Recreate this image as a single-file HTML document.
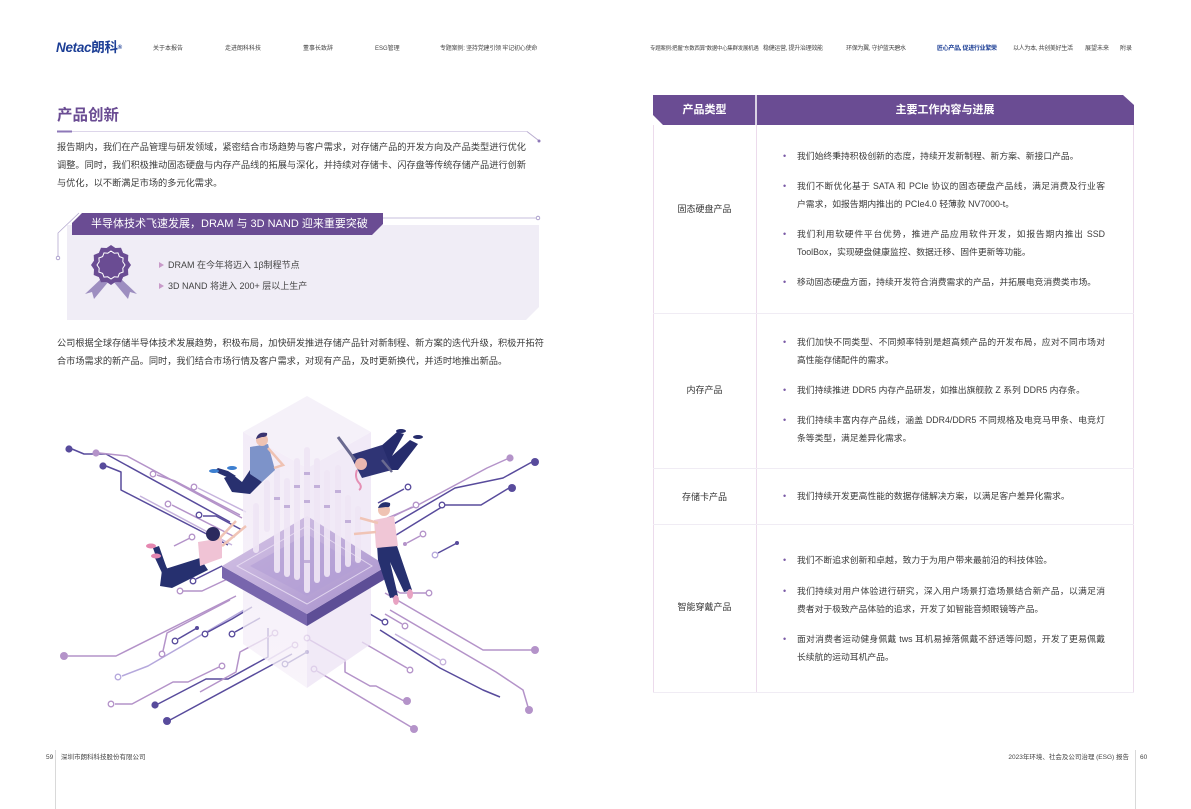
<!DOCTYPE html>
<html><head><meta charset="utf-8">
<style>
*{margin:0;padding:0;box-sizing:border-box}
html,body{width:1191px;height:809px;background:#fff;overflow:hidden}
body{position:relative;font-family:"Liberation Sans","Noto Sans CJK SC",sans-serif;color:#333}
.a{position:absolute;white-space:nowrap}
.nav{font-size:6px;color:#444;top:45px;line-height:8px}
.p{font-size:9.2px;line-height:14px;color:#3a3a3a;left:57px}
.j{text-align:justify;text-align-last:justify}
.t{font-size:8.8px;line-height:14px;color:#3a3a3a;left:797px}
.tj{width:308px;text-align:justify;text-align-last:justify}
.b{left:783px;font-size:9px;color:#7a5aa6;line-height:14px}
.lab{font-size:9px;color:#333;line-height:14px;left:653px;width:103px;text-align:center}
.ft{font-size:6.5px;color:#444;top:753px;line-height:9px}
</style></head><body>

<!-- Header -->
<div class="a" style="left:56px;top:39px;font-size:13.5px;font-weight:bold;font-style:italic;color:#1d3f96;line-height:18px;letter-spacing:-0.3px">Netac<span style="font-style:normal;font-size:13.5px">朗科</span><span style="font-size:6px;vertical-align:top;font-style:normal">®</span></div>
<div class="a nav" style="left:153px">关于本报告</div>
<div class="a nav" style="left:225px">走进朗科科技</div>
<div class="a nav" style="left:303px">董事长致辞</div>
<div class="a nav" style="left:375px">ESG管理</div>
<div class="a nav" style="left:440px;letter-spacing:-0.2px">专题案例: 坚持党建引领 牢记初心使命</div>
<div class="a nav" style="left:650px;font-size:5.4px;letter-spacing:-0.2px">专题案例:把握"东数西算"数据中心集群发展机遇</div>
<div class="a nav" style="left:763px;letter-spacing:-0.3px">稳健运营, 提升治理效能</div>
<div class="a nav" style="left:846px;letter-spacing:-0.3px">环保为翼, 守护蓝天碧水</div>
<div class="a nav" style="left:937px;color:#1d3f96;font-weight:bold;letter-spacing:-0.3px">匠心产品, 促进行业繁荣</div>
<div class="a nav" style="left:1013px;letter-spacing:-0.3px">以人为本, 共创美好生活</div>
<div class="a nav" style="left:1085px">展望未来</div>
<div class="a nav" style="left:1120px">附录</div>

<!-- Title -->
<div class="a" style="left:57px;top:106px;font-size:15.5px;font-weight:bold;color:#6a4c93;line-height:20px">产品创新</div>

<svg class="a" width="1191" height="809" style="left:0;top:0" xmlns="http://www.w3.org/2000/svg">
  <!-- title underline -->
  <line x1="57" y1="131.5" x2="527" y2="131.5" stroke="#ddd6ea" stroke-width="1"/>
  <rect x="57" y="130.5" width="15" height="2" fill="#8e78b8"/>
  <polyline points="527,131.5 538,140" fill="none" stroke="#b8accf" stroke-width="1"/>
  <circle cx="539" cy="141" r="1.5" fill="#8e78b8"/>

  <!-- light box -->
  <polygon points="67,225 539,225 539,307 526,320 67,320" fill="#f0edf6"/>
  <!-- banner decorations -->
  <line x1="383" y1="218" x2="536" y2="218" stroke="#b5aad0" stroke-width="0.8"/>
  <circle cx="538" cy="218" r="1.8" fill="#fff" stroke="#9d8fc4" stroke-width="0.8"/>
  <polyline points="79,213 58,233 58,256" fill="none" stroke="#b5aad0" stroke-width="0.8"/>
  <circle cx="58" cy="258" r="1.8" fill="#fff" stroke="#9d8fc4" stroke-width="0.8"/>
  <!-- banner -->
  <polygon points="82,213 383,213 383,224 372,235 72,235 72,223" fill="#6a4c93"/>

  <!-- badge -->
  <g transform="translate(111,265)">
    <polygon points="-8,12 -2,16 -17,34 -19,27 -26,29" fill="#9d8ec0"/>
    <polygon points="8,12 2,16 17,34 19,27 26,29" fill="#9d8ec0"/>
    <polygon fill="#6a4c93" points="0,-20 4.4,-17 10,-17.3 12.1,-12.1 17.3,-10 17,-4.4 20,0 17,4.4 17.3,10 12.1,12.1 10,17.3 4.4,17 0,20 -4.4,17 -10,17.3 -12.1,12.1 -17.3,10 -17,4.4 -20,0 -17,-4.4 -17.3,-10 -12.1,-12.1 -10,-17.3 -4.4,-17"/>
    <polygon fill="none" stroke="#fff" stroke-width="1" points="0,-14 3.2,-11.8 7,-12.1 8.4,-8.4 12.1,-7 11.8,-3.2 14,0 11.8,3.2 12.1,7 8.4,8.4 7,12.1 3.2,11.8 0,14 -3.2,11.8 -7,12.1 -8.4,8.4 -12.1,7 -11.8,3.2 -14,0 -11.8,-3.2 -12.1,-7 -8.4,-8.4 -7,-12.1 -3.2,-11.8"/>
  </g>
  <polygon points="159,262 164,265 159,268" fill="#c89ac9"/>
  <polygon points="159,283 164,286 159,289" fill="#c89ac9"/>

  <!-- ================= Illustration ================= -->
  <g fill="none" stroke-width="1.5" stroke-linejoin="round">
    <polyline points="72,449 84,454 106,454 230,522" stroke="#584b9c"/>
    <polyline points="99,453 127,456 242,518" stroke="#b493c9"/>
    <polyline points="106,466 121,472 121,490 228,545" stroke="#584b9c"/>
    <polyline points="157,475 175,481 240,515" stroke="#b493c9"/>
    <polyline points="198,488 212,495 246,512" stroke="#c6b3dd"/>
    <polyline points="172,505 235,537" stroke="#b493c9"/>
    <polyline points="203,516 216,516 242,530" stroke="#584b9c"/>
    <polyline points="140,496 232,545" stroke="#c6b3dd"/>
    <polyline points="190,538 174,546" stroke="#b493c9"/>
    <polyline points="196,579 222,566" stroke="#584b9c"/>
    <polyline points="183,591 202,591 236,575" stroke="#b493c9"/>
    <polyline points="68,656 116,656 236,596" stroke="#b493c9"/>
    <polyline points="163,651 167,633 230,600" stroke="#b493c9"/>
    <polyline points="122,676 148,666 244,610" stroke="#b5a8dc"/>
    <polyline points="115,704 132,704 173,682 188,682 219,667" stroke="#b493c9"/>
    <polyline points="158,704 206,679 228,679 268,657 268,628" stroke="#584b9c"/>
    <polyline points="170,720 292,654" stroke="#584b9c"/>
    <polyline points="178,639 197,628" stroke="#584b9c"/>
    <polyline points="208,632 232,619 252,607" stroke="#584b9c"/>
    <polyline points="235,632 260,618" stroke="#584b9c"/>
    <polyline points="272,635 240,652 236,672 200,692" stroke="#b493c9"/>
    <polyline points="292,646 268,660" stroke="#c6b3dd"/>
    <polyline points="288,663 307,652" stroke="#584b9c"/>
    <polyline points="310,640 345,660 345,672 370,686 376,686 404,701" stroke="#b493c9"/>
    <polyline points="317,671 411,727" stroke="#b493c9"/>
    <polyline points="507,459 487,468 418,505 383,520" stroke="#b493c9"/>
    <polyline points="532,462 503,478 455,488 380,532" stroke="#584b9c"/>
    <polyline points="509,488 481,505 445,505 388,540" stroke="#584b9c"/>
    <polyline points="404,489 378,503" stroke="#584b9c"/>
    <polyline points="412,507 380,523" stroke="#b493c9"/>
    <polyline points="420,536 407,543" stroke="#b493c9"/>
    <polyline points="438,553 457,543" stroke="#584b9c"/>
    <polyline points="426,593 400,593 388,586" stroke="#b493c9"/>
    <polyline points="532,650 483,650 385,593" stroke="#b493c9"/>
    <polyline points="500,697 483,690 440,668 380,630" stroke="#584b9c"/>
    <polyline points="528,707 523,690 496,672 390,610" stroke="#b493c9"/>
    <polyline points="407,668 362,642" stroke="#b493c9"/>
    <polyline points="440,660 395,634" stroke="#c6b3dd"/>
    <polyline points="382,621 370,614" stroke="#584b9c"/>
    <polyline points="402,624 385,614" stroke="#b493c9"/>
  </g>
  <g stroke-width="1.3">
    <circle cx="69" cy="449" r="3.6" fill="#584b9c"/>
    <circle cx="96" cy="453" r="3.6" fill="#b493c9"/>
    <circle cx="103" cy="466" r="3.6" fill="#584b9c"/>
    <circle cx="153" cy="474" r="2.8" fill="#fff" stroke="#b493c9"/>
    <circle cx="194" cy="487" r="2.8" fill="#fff" stroke="#b493c9"/>
    <circle cx="168" cy="504" r="2.8" fill="#fff" stroke="#b493c9"/>
    <circle cx="199" cy="515" r="2.8" fill="#fff" stroke="#584b9c"/>
    <circle cx="192" cy="537" r="2.8" fill="#fff" stroke="#b493c9"/>
    <circle cx="193" cy="581" r="2.8" fill="#fff" stroke="#584b9c"/>
    <circle cx="180" cy="591" r="2.8" fill="#fff" stroke="#b493c9"/>
    <circle cx="64" cy="656" r="4" fill="#b493c9"/>
    <circle cx="162" cy="654" r="2.8" fill="#fff" stroke="#b493c9"/>
    <circle cx="118" cy="677" r="2.8" fill="#fff" stroke="#b5a8dc"/>
    <circle cx="111" cy="704" r="2.8" fill="#fff" stroke="#b493c9"/>
    <circle cx="222" cy="666" r="2.8" fill="#fff" stroke="#b493c9"/>
    <circle cx="155" cy="705" r="3.6" fill="#584b9c"/>
    <circle cx="167" cy="721" r="4" fill="#584b9c"/>
    <circle cx="175" cy="641" r="2.8" fill="#fff" stroke="#584b9c"/>
    <circle cx="197" cy="628" r="2" fill="#584b9c"/>
    <circle cx="205" cy="634" r="2.8" fill="#fff" stroke="#584b9c"/>
    <circle cx="232" cy="634" r="2.8" fill="#fff" stroke="#584b9c"/>
    <circle cx="275" cy="633" r="2.8" fill="#fff" stroke="#b493c9"/>
    <circle cx="295" cy="645" r="2.8" fill="#fff" stroke="#b493c9"/>
    <circle cx="285" cy="664" r="2.8" fill="#fff" stroke="#584b9c"/>
    <circle cx="307" cy="652" r="2" fill="#584b9c"/>
    <circle cx="307" cy="638" r="2.8" fill="#fff" stroke="#b493c9"/>
    <circle cx="314" cy="669" r="2.8" fill="#fff" stroke="#b493c9"/>
    <circle cx="407" cy="701" r="4" fill="#b493c9"/>
    <circle cx="414" cy="729" r="4" fill="#b493c9"/>
    <circle cx="510" cy="458" r="3.6" fill="#b493c9"/>
    <circle cx="535" cy="462" r="4" fill="#584b9c"/>
    <circle cx="512" cy="488" r="4" fill="#584b9c"/>
    <circle cx="408" cy="487" r="2.8" fill="#fff" stroke="#584b9c"/>
    <circle cx="416" cy="505" r="2.8" fill="#fff" stroke="#b493c9"/>
    <circle cx="442" cy="505" r="2.8" fill="#fff" stroke="#584b9c"/>
    <circle cx="423" cy="534" r="2.8" fill="#fff" stroke="#b493c9"/>
    <circle cx="405" cy="544" r="2" fill="#b493c9"/>
    <circle cx="435" cy="555" r="2.8" fill="#fff" stroke="#b5a8dc"/>
    <circle cx="457" cy="543" r="2" fill="#584b9c"/>
    <circle cx="429" cy="593" r="2.8" fill="#fff" stroke="#b493c9"/>
    <circle cx="535" cy="650" r="4" fill="#b493c9"/>
    <circle cx="529" cy="710" r="4" fill="#b493c9"/>
    <circle cx="410" cy="670" r="2.8" fill="#fff" stroke="#b493c9"/>
    <circle cx="443" cy="662" r="2.8" fill="#fff" stroke="#c6b3dd"/>
    <circle cx="385" cy="622" r="2.8" fill="#fff" stroke="#584b9c"/>
    <circle cx="405" cy="626" r="2.8" fill="#fff" stroke="#b493c9"/>
  </g>

  <defs>
    <linearGradient id="pr" x1="0" y1="0" x2="0" y2="1">
      <stop offset="0" stop-color="#efe6f5"/>
      <stop offset="1" stop-color="#f6f0f9"/>
    </linearGradient>
    <linearGradient id="ct" x1="0" y1="0" x2="1" y2="1">
      <stop offset="0" stop-color="#d9c8e8"/>
      <stop offset="1" stop-color="#a58fcb"/>
    </linearGradient>
  </defs>
  <polygon points="243,432 307,468 307,688 243,644" fill="url(#pr)" opacity="0.75"/>
  <polygon points="307,468 371,432 371,644 307,688" fill="#ece3f4" opacity="0.75"/>
  <polygon points="307,396 371,432 307,468 243,432" fill="#f3eef8" opacity="0.85"/>

  <polygon points="222,566 307,614 307,626 222,578" fill="#7866ad"/>
  <polygon points="307,614 387,566 387,578 307,626" fill="#5d4e96"/>
  <polygon points="307,516 387,566 307,614 222,566" fill="url(#ct)"/>
  <polygon points="307,526 372,566 307,604 237,566" fill="none" stroke="#ece2f5" stroke-width="1" opacity="0.8"/>
  <polygon points="307,534 360,566 307,596 250,566" fill="#b39ed6" opacity="0.6"/>

  <g fill="#efe6f5" opacity="0.92">
    <rect x="253" y="503" width="6" height="50" rx="3"/>
    <rect x="264" y="480" width="6" height="52" rx="3"/>
    <rect x="274" y="467" width="6" height="106" rx="3"/>
    <rect x="284" y="478" width="6" height="99" rx="3"/>
    <rect x="294" y="458" width="6" height="122" rx="3"/>
    <rect x="304" y="447" width="6" height="146" rx="3"/>
    <rect x="314" y="458" width="6" height="125" rx="3"/>
    <rect x="324" y="470" width="6" height="107" rx="3"/>
    <rect x="335" y="465" width="6" height="108" rx="3"/>
    <rect x="345" y="495" width="6" height="72" rx="3"/>
    <rect x="355" y="506" width="6" height="57" rx="3"/>
  </g>
  <g fill="#b9a3d4" opacity="0.8">
    <rect x="274" y="497" width="6" height="3"/><rect x="284" y="505" width="6" height="3"/>
    <rect x="294" y="485" width="6" height="3"/><rect x="304" y="472" width="6" height="3"/>
    <rect x="304" y="500" width="6" height="3"/><rect x="314" y="485" width="6" height="3"/>
    <rect x="324" y="505" width="6" height="3"/><rect x="335" y="490" width="6" height="3"/>
    <rect x="345" y="520" width="6" height="3"/><rect x="304" y="560" width="6" height="3"/>
  </g>

  <!-- Person A -->
  <g>
    <polygon points="250,470 262,482 250,494 232,492 224,478 232,474 242,482" fill="#28306f"/>
    <polygon points="229,478 220,474 214,471 218,468 228,471 236,476" fill="#28306f"/>
    <ellipse cx="214" cy="471" rx="5" ry="2" fill="#3d7fd0"/>
    <ellipse cx="232" cy="468" rx="5" ry="2" fill="#3d7fd0"/>
    <polygon points="250,447 268,444 275,470 262,482 250,474" fill="#7d93c9"/>
    <polyline points="268,448 283,465 274,468" fill="none" stroke="#efc2b3" stroke-width="2.5"/>
    <circle cx="262" cy="440" r="6" fill="#efc3b3"/>
    <path d="M256,439 Q258,431 267,433 Q268,437 262,437 Z" fill="#3a3470"/>
  </g>
  <!-- Person B -->
  <g>
    <polygon points="380,447 397,432 404,434 392,456 410,440 418,444 398,470 386,470" fill="#262c6c"/>
    <ellipse cx="401" cy="431" rx="5" ry="2" fill="#262c6c"/>
    <ellipse cx="418" cy="437" rx="5" ry="2" fill="#262c6c"/>
    <polygon points="350,455 382,445 392,470 362,478" fill="#2f3475"/>
    <polyline points="355,460 338,437" fill="none" stroke="#6a6a90" stroke-width="3"/>
    <polyline points="382,460 392,472" fill="none" stroke="#6a6a90" stroke-width="2.5"/>
    <circle cx="361" cy="464" r="6" fill="#eab7b0"/>
    <path d="M357,470 Q354,478 360,484 Q362,488 359,490" fill="none" stroke="#e590b5" stroke-width="2"/>
  </g>
  <!-- Person C -->
  <g>
    <polygon points="200,558 162,570 160,586 172,588 208,570" fill="#26306f"/>
    <polygon points="158,562 153,548 159,546 166,566" fill="#26306f"/>
    <polygon points="162,573 155,558 161,556 170,574" fill="#26306f"/>
    <ellipse cx="151" cy="546" rx="5" ry="2.5" fill="#e587b0"/>
    <ellipse cx="156" cy="556" rx="5" ry="2.5" fill="#e587b0"/>
    <polygon points="198,542 222,538 222,558 200,566" fill="#f0c3d5"/>
    <polyline points="218,540 236,521" fill="none" stroke="#f0c4b6" stroke-width="2.5"/>
    <polyline points="222,546 246,526" fill="none" stroke="#f0c4b6" stroke-width="2.5"/>
    <circle cx="213" cy="534" r="7" fill="#2b2a5e"/>
  </g>
  <!-- Person D -->
  <g>
    <polygon points="377,545 396,543 412,590 404,592 390,562 398,596 390,598 378,560" fill="#26306f"/>
    <ellipse cx="396" cy="600" rx="3" ry="5" fill="#e8a3c2"/>
    <ellipse cx="410" cy="594" rx="3" ry="5" fill="#e8a3c2"/>
    <polygon points="374,520 394,516 398,546 376,548" fill="#f0c6d6"/>
    <polyline points="378,523 360,518" fill="none" stroke="#f0c4b6" stroke-width="2.5"/>
    <polyline points="376,532 354,534" fill="none" stroke="#f0c4b6" stroke-width="2.5"/>
    <circle cx="384" cy="510" r="6" fill="#efc3b3"/>
    <path d="M378,508 Q381,500 390,503 Q391,508 386,507 Z" fill="#26306f"/>
  </g>

  <!-- Table -->
  <polygon points="653,95 1123,95 1134,105 1134,125 663,125 653,115" fill="#6a4c93"/>
  <line x1="756" y1="95" x2="756" y2="125" stroke="#fff" stroke-width="1.5"/>
  <g stroke="#ecdbec" stroke-width="1">
    <line x1="653.5" y1="125" x2="653.5" y2="692"/>
    <line x1="756.5" y1="125" x2="756.5" y2="692"/>
    <line x1="1133.5" y1="125" x2="1133.5" y2="692"/>
  </g>
  <g stroke="#f0ecf4" stroke-width="1">
    <line x1="653" y1="313.5" x2="1134" y2="313.5"/>
    <line x1="653" y1="468.5" x2="1134" y2="468.5"/>
    <line x1="653" y1="524.5" x2="1134" y2="524.5"/>
    <line x1="653" y1="692.5" x2="1134" y2="692.5"/>
  </g>

  <line x1="55.5" y1="750" x2="55.5" y2="809" stroke="#d0d0d0" stroke-width="0.8"/>
  <line x1="1135.5" y1="750" x2="1135.5" y2="809" stroke="#d0d0d0" stroke-width="0.8"/>
</svg>

<div class="a" style="left:91px;top:216px;font-size:11px;line-height:16px;color:#fff">半导体技术飞速发展，DRAM 与 3D NAND 迎来重要突破</div>

<div class="a p j" style="top:140px;width:469px">报告期内，我们在产品管理与研发领域，紧密结合市场趋势与客户需求，对存储产品的开发方向及产品类型进行优化</div>
<div class="a p j" style="top:158px;width:469px">调整。同时，我们积极推动固态硬盘与内存产品线的拓展与深化，并持续对存储卡、闪存盘等传统存储产品进行创新</div>
<div class="a p" style="top:176px">与优化，以不断满足市场的多元化需求。</div>

<div class="a" style="left:168px;top:258px;font-size:9px;line-height:14px;color:#444">DRAM 在今年将迈入 1β制程节点</div>
<div class="a" style="left:168px;top:279px;font-size:9px;line-height:14px;color:#444">3D NAND 将进入 200+ 层以上生产</div>

<div class="a p j" style="top:336px;width:483px">公司根据全球存储半导体技术发展趋势，积极布局，加快研发推进存储产品针对新制程、新方案的迭代升级，积极开拓符</div>
<div class="a p" style="top:354px">合市场需求的新产品。同时，我们结合市场行情及客户需求，对现有产品，及时更新换代，并适时地推出新品。</div>

<div class="a" style="left:653px;width:103px;text-align:center;top:102px;font-size:11px;line-height:16px;color:#fff;font-weight:bold">产品类型</div>
<div class="a" style="left:756px;width:378px;text-align:center;top:102px;font-size:11px;line-height:16px;color:#fff;font-weight:bold">主要工作内容与进展</div>

<div class="a lab" style="top:202px">固态硬盘产品</div>
<div class="a lab" style="top:383px">内存产品</div>
<div class="a lab" style="top:490px">存储卡产品</div>
<div class="a lab" style="top:600px">智能穿戴产品</div>

<div class="a b" style="top:149px">•</div>
<div class="a t" style="top:149px">我们始终秉持积极创新的态度，持续开发新制程、新方案、新接口产品。</div>
<div class="a b" style="top:179px">•</div>
<div class="a t tj" style="top:179px">我们不断优化基于 SATA 和 PCIe 协议的固态硬盘产品线，满足消费及行业客</div>
<div class="a t" style="top:197px">户需求，如报告期内推出的 PCIe4.0 轻薄款 NV7000-t。</div>
<div class="a b" style="top:227px">•</div>
<div class="a t tj" style="top:227px">我们利用软硬件平台优势，推进产品应用软件开发，如报告期内推出 SSD</div>
<div class="a t" style="top:245px">ToolBox，实现硬盘健康监控、数据迁移、固件更新等功能。</div>
<div class="a b" style="top:275px">•</div>
<div class="a t" style="top:275px">移动固态硬盘方面，持续开发符合消费需求的产品，并拓展电竞消费类市场。</div>

<div class="a b" style="top:335px">•</div>
<div class="a t tj" style="top:335px">我们加快不同类型、不同频率特别是超高频产品的开发布局，应对不同市场对</div>
<div class="a t" style="top:353px">高性能存储配件的需求。</div>
<div class="a b" style="top:383px">•</div>
<div class="a t" style="top:383px">我们持续推进 DDR5 内存产品研发，如推出旗舰款 Z 系列 DDR5 内存条。</div>
<div class="a b" style="top:413px">•</div>
<div class="a t tj" style="top:413px">我们持续丰富内存产品线，涵盖 DDR4/DDR5 不同规格及电竞马甲条、电竞灯</div>
<div class="a t" style="top:431px">条等类型，满足差异化需求。</div>

<div class="a b" style="top:489px">•</div>
<div class="a t" style="top:489px">我们持续开发更高性能的数据存储解决方案，以满足客户差异化需求。</div>

<div class="a b" style="top:553px">•</div>
<div class="a t" style="top:553px">我们不断追求创新和卓越，致力于为用户带来最前沿的科技体验。</div>
<div class="a b" style="top:584px">•</div>
<div class="a t tj" style="top:584px">我们持续对用户体验进行研究，深入用户场景打造场景结合新产品，以满足消</div>
<div class="a t" style="top:602px">费者对于极致产品体验的追求，开发了如智能音频眼镜等产品。</div>
<div class="a b" style="top:632px">•</div>
<div class="a t tj" style="top:632px">面对消费者运动健身佩戴 tws 耳机易掉落佩戴不舒适等问题，开发了更易佩戴</div>
<div class="a t" style="top:650px">长续航的运动耳机产品。</div>

<div class="a ft" style="left:46px">59</div>
<div class="a ft" style="left:61px">深圳市朗科科技股份有限公司</div>
<div class="a ft" style="right:62px;text-align:right">2023年环境、社会及公司治理 (ESG) 报告</div>
<div class="a ft" style="left:1140px">60</div>

</body></html>
